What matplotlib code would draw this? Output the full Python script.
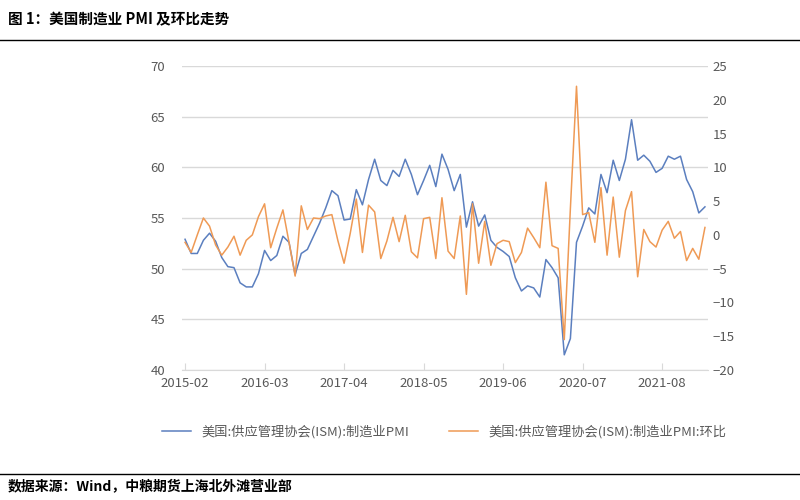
import matplotlib
matplotlib.use("Agg")
import matplotlib.pyplot as plt
import numpy as np

plt.rcParams['font.family'] = ['Noto Sans CJK SC', 'DejaVu Sans']

pmi = [52.9,51.5,51.5,52.8,53.5,52.7,51.1,50.2,50.1,48.6,48.2,
       48.2,49.5,51.8,50.8,51.3,53.2,52.6,49.4,51.5,51.9,53.2,54.5,
       56.0,57.7,57.2,54.8,54.9,57.8,56.3,58.8,60.8,58.7,58.2,59.7,
       59.1,60.8,59.3,57.3,58.7,60.2,58.1,61.3,59.8,57.7,59.3,54.1,
       56.6,54.2,55.3,52.8,52.1,51.7,51.2,49.1,47.8,48.3,48.1,47.2,
       50.9,50.1,49.1,41.5,43.1,52.6,54.2,56.0,55.4,59.3,57.5,60.7,
       58.7,60.8,64.7,60.7,61.2,60.6,59.5,59.9,61.1,60.8,61.1,58.8,
       57.6,55.5,56.1]
mom = [-1.1,-2.6,0.0,2.5,1.3,-1.5,-3.0,-1.8,-0.2,-3.0,-0.8,
       0.0,2.7,4.6,-1.9,1.0,3.7,-1.1,-6.1,4.3,0.8,2.5,2.4,
       2.8,3.0,-0.9,-4.2,0.2,5.3,-2.6,4.4,3.4,-3.5,-0.9,2.6,
       -1.0,2.9,-2.5,-3.4,2.4,2.6,-3.5,5.5,-2.4,-3.5,2.8,-8.8,
       4.6,-4.2,2.0,-4.5,-1.3,-0.8,-1.0,-4.1,-2.6,1.0,-0.4,-1.9,
       7.8,-1.6,-2.0,-15.5,3.9,22.0,3.0,3.3,-1.1,7.0,-3.0,5.6,
       -3.3,3.6,6.4,-6.2,0.8,-1.0,-1.8,0.7,2.0,-0.5,0.5,-3.8,
       -2.0,-3.6,1.1]
tick_labels = ['2015-02','2016-03','2017-04','2018-05','2019-06','2020-07','2021-08']

x = np.arange(len(pmi))
fig = plt.figure(figsize=(8,5), dpi=100)
ax = fig.add_axes([0.2275, 0.26, 0.6575, 0.608])
ax2 = ax.twinx()
blue = '#5b7fbf'; orange = '#ef9a55'
ax.plot(x, pmi, color=blue, lw=1.1, label='美国:供应管理协会(ISM):制造业PMI')
ax2.plot(x, mom, color=orange, lw=1.1, label='美国:供应管理协会(ISM):制造业PMI:环比')
ax.set_ylim(40,70); ax.set_yticks(range(40,71,5))
ax2.set_ylim(-20,25); ax2.set_yticks(range(-20,26,5))
ax.set_xlim(-0.5, len(pmi)-0.5)
ax.set_xticks(np.arange(0, len(pmi), 13)); ax.set_xticklabels(tick_labels)
ax.grid(axis='y', color='#d9d9d9', lw=1)
ax.set_axisbelow(True)
for a in (ax, ax2):
    for s in a.spines.values(): s.set_visible(False)
    a.tick_params(length=0, labelsize=9.5, colors='#595959')
ax.tick_params(axis='y', pad=12)
ax.spines['bottom'].set_visible(True); ax.spines['bottom'].set_color('#d9d9d9')
ax.tick_params(axis='x', length=5, color='#d9d9d9', direction='in', pad=5)
h1,l1 = ax.get_legend_handles_labels(); h2,l2 = ax2.get_legend_handles_labels()
fig.legend(h1+h2, l1+l2, loc='center', bbox_to_anchor=(0.555, 0.137), ncol=2, frameon=False,
           fontsize=9.5, labelcolor='#595959', handlelength=2.2, columnspacing=3)
fig.text(0.01, 0.962, '图 1：美国制造业 PMI 及环比走势', fontsize=10.5, fontweight='bold', va='center')
fig.add_artist(plt.Line2D([0,1],[0.92,0.92], color='black', lw=1))
fig.add_artist(plt.Line2D([0,1],[0.052,0.052], color='black', lw=1))
fig.text(0.01, 0.028, '数据来源：Wind，中粮期货上海北外滩营业部', fontsize=10, fontweight='bold', va='center')
fig.savefig('out.png')
